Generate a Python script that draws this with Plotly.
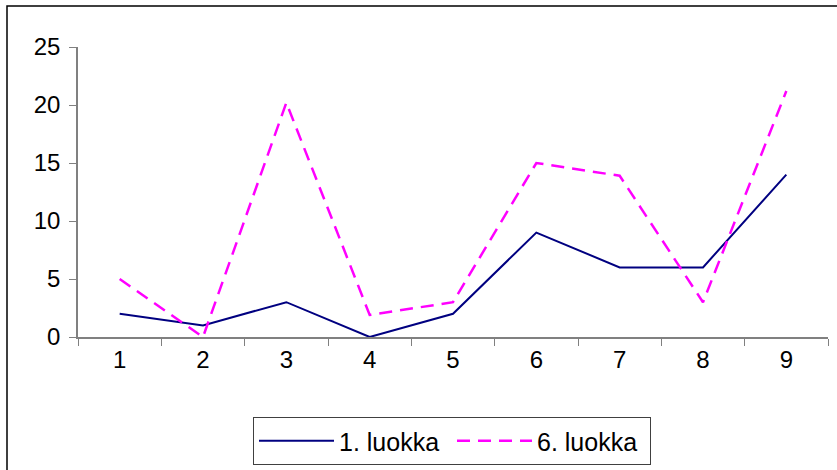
import plotly.graph_objects as go

categories = ["1", "2", "3", "4", "5", "6", "7", "8", "9"]
luokka1 = [2, 1, 3, 0, 2, 9, 6, 6, 14]
luokka6 = [5, 0, 20.2, 1.9, 3, 15, 13.9, 3, 21.2]
series_names = ["1. luokka", "6. luokka"]

W, H = 837, 470
L, R, T, B = 78, 9, 47, 133
pw, ph = W - L - R, H - T - B

def px_x(x):
    return (x - L) / pw

def px_y(y):
    return (H - B - y) / ph

fig = go.Figure()
fig.add_trace(go.Scatter(x=categories, y=luokka1, mode="lines", name=series_names[0],
                         line=dict(color="#000080", width=2)))
fig.add_trace(go.Scatter(x=categories, y=luokka6, mode="lines", name=series_names[1],
                         line=dict(color="#FF00FF", width=2.5, dash="13px,8px")))

font = dict(family="Liberation Sans, Arial, sans-serif", size=24, color="black")
lfont = dict(family="Liberation Sans, Arial, sans-serif", size=25, color="black")

fig.update_layout(
    width=W, height=H,
    margin=dict(l=L, r=R, t=T, b=B, pad=0, autoexpand=False),
    paper_bgcolor="white", plot_bgcolor="white",
    font=font,
    showlegend=True,
    legend=dict(orientation="h", x=px_x(452), xanchor="center", y=px_y(417), yanchor="top",
                bordercolor="#404040", borderwidth=1, font=lfont, itemwidth=75,
                tracegroupgap=0, entrywidth=108),
    xaxis=dict(type="category", tickson="boundaries", ticks="outside", ticklen=7,
               tickcolor="#808080", showline=True, linecolor="#808080", linewidth=1.5,
               showgrid=False, zeroline=False, tickfont=font, range=[-0.5, 8.5]),
    yaxis=dict(range=[0, 25], dtick=5, ticks="outside", ticklen=7, tickcolor="#808080",
               showline=True, linecolor="#808080", linewidth=1.5, showgrid=False,
               zeroline=False, tickfont=font, ticklabelstandoff=4),
    shapes=[dict(type="rect", xref="paper", yref="paper",
                 x0=px_x(7), x1=px_x(845), y0=px_y(480), y1=px_y(6),
                 line=dict(color="black", width=1.5), layer="below")],
)

fig.write_html("out.html", config={"displayModeBar": False},
               post_script="document.body.style.margin='0';document.body.style.overflow='hidden';")
